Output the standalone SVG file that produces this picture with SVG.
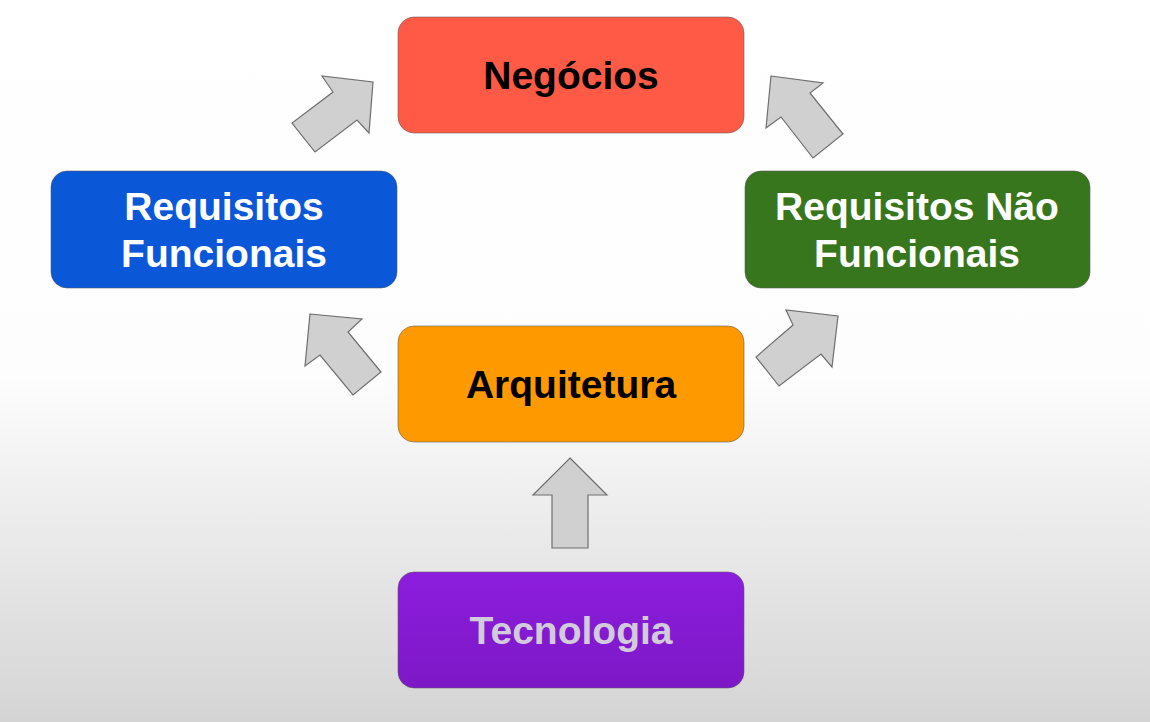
<svg xmlns="http://www.w3.org/2000/svg" width="1150" height="722" viewBox="0 0 1150 722">
<defs>
<linearGradient id="bg" x1="0" y1="0" x2="0" y2="1">
<stop offset="0" stop-color="#ffffff"/>
<stop offset="0.52" stop-color="#fdfdfd"/>
<stop offset="1" stop-color="#d4d4d4"/>
</linearGradient>
<linearGradient id="purp" x1="0" y1="0" x2="0" y2="1">
<stop offset="0" stop-color="#8c1ddd"/>
<stop offset="1" stop-color="#7d18c6"/>
</linearGradient>
<style>
.box{stroke:#5a5a5a;stroke-opacity:0.55;stroke-width:1}
.t{font-family:"Liberation Sans",Arial,sans-serif;font-weight:bold;font-size:39px;text-anchor:middle}
.arr{fill:#d0d0d0;stroke:#6e6e6e;stroke-width:1.2;stroke-linejoin:miter}
</style>
</defs>
<rect x="0" y="0" width="1150" height="722" fill="url(#bg)"/>
<g id="connectors">
<polygon class="arr" points="373,82 369,133 357,120 315,152 292,123 333,92 322,76"/>
<polygon class="arr" points="771,76 823,83 810,93 843,134 813,158 781,117 766,128"/>
<polygon class="arr" points="310,314 362,319 348,332 381,372 353,395 320,355 305,366"/>
<polygon class="arr" points="838,316 832,367 821,354 779,386 756,357 793,325 786,310"/>
<polygon class="arr" points="570,458 607,495 588,495 588,548 552,548 552,495 533,495"/>
</g>
<g id="negocios">
<rect class="box" x="398" y="17" width="346" height="116" rx="16" fill="#ff5a45"/>
<text class="t" x="571" y="89" fill="#000">Negócios</text>
</g>
<g id="req-funcionais">
<rect class="box" x="51" y="171" width="346" height="117" rx="16" fill="#0a58d8"/>
<text class="t" x="224" y="220" fill="#fff">Requisitos</text>
<text class="t" x="224" y="267" fill="#fff">Funcionais</text>
</g>
<g id="req-nao-funcionais">
<rect class="box" x="745" y="171" width="345" height="117" rx="16" fill="#38761d"/>
<text class="t" x="917" y="220" fill="#fff">Requisitos Não</text>
<text class="t" x="917" y="267" fill="#fff">Funcionais</text>
</g>
<g id="arquitetura">
<rect class="box" x="398" y="326" width="346" height="116" rx="16" fill="#ff9900"/>
<text class="t" x="571" y="398" fill="#000">Arquitetura</text>
</g>
<g id="tecnologia">
<rect class="box" x="398" y="572" width="346" height="116" rx="16" fill="url(#purp)"/>
<text class="t" x="571" y="644" fill="#d2cbdc">Tecnologia</text>
</g>
</svg>
